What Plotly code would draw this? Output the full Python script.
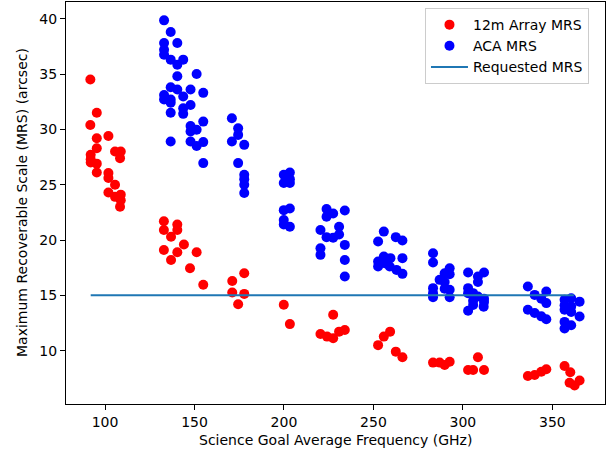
import plotly.graph_objects as go

# 12m Array MRS
freq_12m = [91.8, 95.4, 91.8, 95.4, 101.9, 95.4, 92.0, 105.6, 108.8, 92.0, 92.0, 95.4, 108.4, 95.4,
            101.9, 101.9, 105.6, 101.9, 105.6, 108.8, 108.8, 108.4,
            132.9, 132.9, 140.4, 140.4, 136.9, 144.1, 132.9, 140.4, 136.9, 151.2, 147.5, 154.9,
            171.1, 177.8, 171.1, 177.8, 174.4,
            199.9, 203.3,
            227.5, 220.4, 224.1, 227.5, 230.8, 234.0,
            252.6, 255.8, 259.3, 262.5, 266.2,
            283.3, 287.0, 289.8, 292.6,
            302.9, 305.7, 308.4, 311.8,
            336.3, 340.1, 343.8, 346.6,
            356.8, 360.0, 359.6, 362.4, 365.2]
mrs_12m = [34.5, 31.5, 30.4, 29.2, 29.4, 28.3, 27.7, 28.0, 28.0, 27.3, 27.0, 26.9, 27.4, 26.1,
           26.05, 25.6, 25.0, 24.3, 23.9, 24.1, 23.6, 23.0,
           21.7, 20.9, 21.4, 20.9, 20.3, 19.6, 19.1, 18.9, 18.2, 18.9, 17.45, 15.95,
           16.3, 17.0, 15.25, 15.13, 14.2,
           14.15, 12.4,
           13.25, 11.5, 11.27, 11.12, 11.72, 11.87,
           10.5, 11.27, 11.72, 9.91, 9.4,
           8.92, 8.92, 8.71, 9.0,
           8.25, 8.25, 9.4, 8.25,
           7.71, 7.8, 8.1, 8.32,
           8.62, 8.05, 7.1, 6.85, 7.3]

# ACA MRS
freq_aca = [133.0, 136.7, 140.4, 133.0, 133.0, 133.0, 136.7, 143.7, 140.4, 151.2, 140.4, 136.7,
            133.0, 133.0, 140.4, 147.8, 154.9, 143.7, 136.7, 136.7, 147.8, 143.7, 136.7, 143.7,
            154.9, 147.8, 151.2, 147.8, 136.7, 147.8, 151.2, 154.9, 154.9,
            170.9, 174.4, 174.4, 170.9, 177.8, 174.4, 177.8, 177.8, 177.8, 177.8,
            199.9, 203.3, 199.9, 203.3, 203.3, 199.9, 203.3, 199.9, 199.9, 203.3,
            223.8, 227.5, 234.0, 223.8, 220.4, 230.8, 223.8, 227.5, 230.8, 234.0, 220.4, 220.4,
            234.0, 234.0,
            255.8, 252.6, 262.5, 266.2, 255.8, 259.5, 252.6, 252.6, 266.2, 259.1, 262.9, 266.2,
            256.3,
            283.3, 283.3, 292.6, 289.8, 292.6, 287.0, 289.8, 283.3, 283.3, 283.3, 292.6, 292.6,
            289.8,
            302.9, 311.8, 308.4, 308.4, 302.9, 302.9, 305.7, 305.7, 308.4, 311.8, 311.8, 302.9,
            305.7, 311.6,
            336.3, 340.1, 346.6, 346.6, 336.3, 340.1, 343.8, 346.6, 343.8,
            356.8, 360.5, 365.2, 356.8, 365.2, 356.8, 356.8, 360.5, 360.5, 360.5, 356.8]
mrs_aca = [39.85, 38.8, 37.8, 37.8, 37.2, 36.75, 36.3, 36.3, 35.85, 35.0, 34.8, 33.8,
           33.1, 32.7, 33.6, 33.6, 33.3, 32.97, 32.7, 32.4, 32.2, 31.9, 31.5, 31.4,
           30.7, 30.3, 29.96, 29.8, 28.9, 28.9, 28.5, 28.85, 26.95,
           31.0, 30.1, 29.5, 28.9, 28.6, 26.95, 25.9, 25.5, 25.0, 24.25,
           25.9, 26.1, 25.15, 25.15, 25.5, 22.7, 22.85, 21.8, 21.4, 21.2,
           22.8, 22.4, 22.66, 22.1, 20.9, 21.2, 20.26, 20.2, 20.5, 19.56, 19.26, 18.66,
           18.2, 16.7,
           20.76, 19.86, 20.26, 19.96, 18.5, 18.36, 18.05, 17.6, 18.36, 17.6, 17.3, 16.94,
           17.9,
           18.8, 17.97, 17.45, 17.0, 16.9, 16.4, 16.2, 15.65, 15.2, 14.83, 15.5, 14.83,
           15.6,
           17.06, 17.06, 16.7, 16.2, 15.65, 15.2, 15.2, 14.5, 14.9, 14.7, 14.4, 13.6,
           14.13, 13.98,
           15.8, 15.04, 15.34, 14.3, 13.7, 13.4, 13.1, 12.84, 14.7,
           14.6, 14.74, 14.43, 13.7, 13.08, 12.6, 12.0, 12.3, 13.5, 14.0, 14.1]

# Requested MRS
req_freq = [92.0, 362.0]
req_mrs = [15.0, 15.0]

x_ticks = [100, 150, 200, 250, 300, 350]
y_ticks = [10, 15, 20, 25, 30, 35, 40]
x_title = "Science Goal Average Frequency (GHz)"
y_title = "Maximum Recoverable Scale (MRS) (arcsec)"

FONT = "DejaVu Sans, sans-serif"

fig = go.Figure()
fig.add_trace(go.Scatter(x=freq_12m, y=mrs_12m, mode="markers", name="12m Array MRS",
                         marker=dict(color="#ff0000", size=10, line=dict(width=0))))
fig.add_trace(go.Scatter(x=freq_aca, y=mrs_aca, mode="markers", name="ACA MRS",
                         marker=dict(color="#0000ff", size=10, line=dict(width=0))))
fig.add_trace(go.Scatter(x=req_freq, y=req_mrs, mode="lines", name="Requested MRS",
                         line=dict(color="#1f77b4", width=2)))

axis_common = dict(showline=True, linecolor="black", linewidth=1, mirror=True,
                   ticks="outside", ticklen=5, tickwidth=1, tickcolor="black",
                   showgrid=False, zeroline=False, automargin=False,
                   tickfont=dict(family=FONT, size=14, color="black"))

fig.update_layout(
    width=613, height=454,
    margin=dict(l=66, r=8, t=2, b=50),
    paper_bgcolor="white", plot_bgcolor="white",
    font=dict(family=FONT, size=14, color="black"),
    xaxis=dict(range=[78.2, 379.4], tickvals=x_ticks, **axis_common),
    yaxis=dict(range=[5.18, 41.51], tickvals=y_ticks, **axis_common),
    legend=dict(x=0.666, y=0.985, xanchor="left", yanchor="top",
                bgcolor="white", bordercolor="#cccccc", borderwidth=1,
                font=dict(family=FONT, size=14, color="black"),
                itemwidth=37, entrywidth=120, entrywidthmode="pixels"),
    showlegend=True,
    annotations=[
        dict(text=x_title, xref="paper", yref="paper", x=0.5, y=-0.0896,
             xanchor="center", yanchor="middle", showarrow=False,
             font=dict(family=FONT, size=14, color="black")),
        dict(text=y_title, xref="paper", yref="paper", x=-0.0816, y=0.5,
             xanchor="center", yanchor="middle", textangle=-90, showarrow=False,
             font=dict(family=FONT, size=14, color="black")),
    ],
)

fig.write_html("out.html", config={"displayModeBar": False},
               post_script="document.body.style.margin='0';document.body.style.overflow='hidden';")
